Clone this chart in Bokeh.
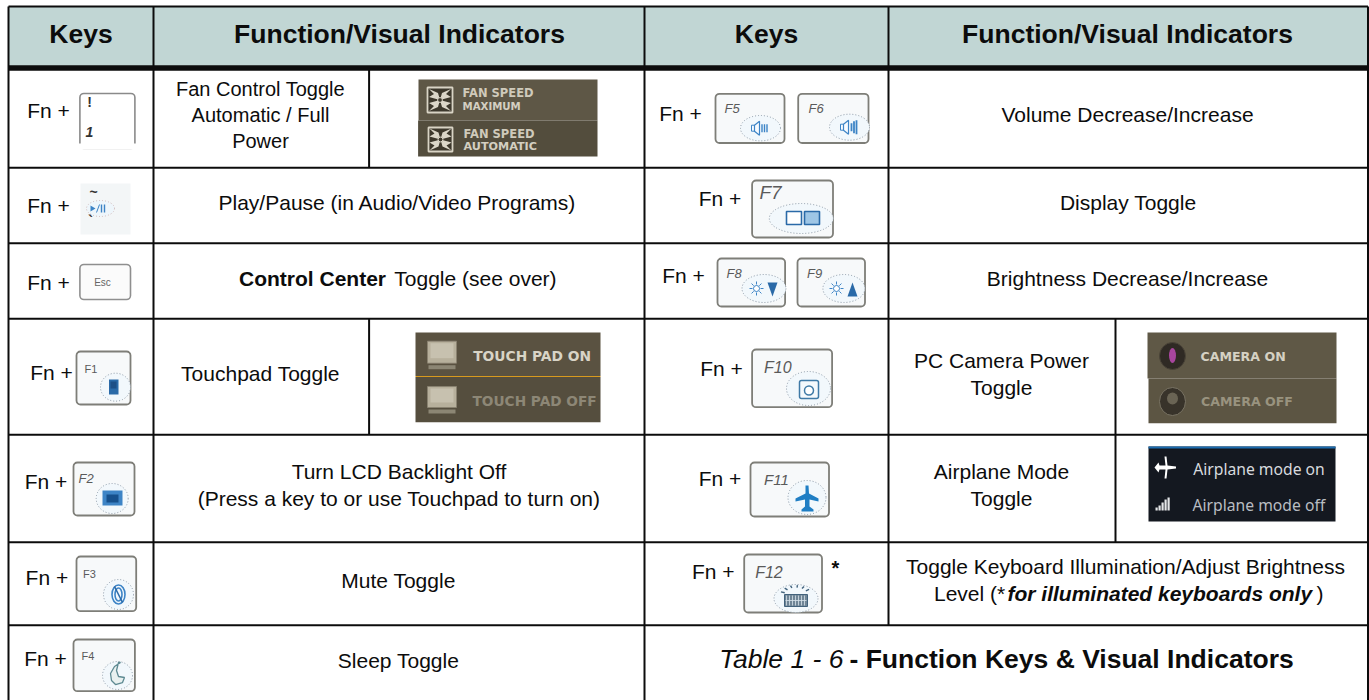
from bokeh.plotting import figure
from bokeh.models import Range1d
from bokeh.core.properties import value
from bokeh.embed import file_html
from bokeh.resources import INLINE
import math

HEADERS = ["Keys", "Function/Visual Indicators", "Keys", "Function/Visual Indicators"]
FN = "Fn +"

# table geometry
COLS = [8, 153, 644, 888, 1367.5]
SUB_L, SUB_R = 368.6, 1115
ROWS = [6, 67.5, 167.3, 242.7, 318.3, 434.3, 541.7, 624.7, 700]

BLK = "#0c0c0c"
FONT = "Liberation Sans"

p = figure(width=1369, height=700, output_backend="svg", toolbar_location=None,
           x_range=Range1d(0, 1369), y_range=Range1d(700, 0),
           x_axis_type=None, y_axis_type=None, min_border=0,
           outline_line_color=None, background_fill_color="white",
           border_fill_color="white")
p.grid.visible = False
p.styles = {"position": "absolute", "left": "0px", "top": "0px"}


def txt(x, y, s, size=21, style="normal", color=BLK, align="center", font=FONT):
    p.text([x], [y], text=[s], text_font=value(font), text_font_size=f"{size}px",
           text_font_style=style, text_color=color, text_align=align, text_baseline="middle")


def box(l, t, r, b, fill, line=None, lw=1, radius=0):
    p.quad(left=[l], right=[r], top=[t], bottom=[b], fill_color=fill,
           line_color=line, line_width=lw, border_radius=radius)


def poly(xs, ys, fill, line=None, lw=1):
    p.patch(xs, ys, fill_color=fill, line_color=line, line_width=lw)


def ln(x0, y0, x1, y1, color=BLK, w=2, dash="solid"):
    p.segment([x0], [y0], [x1], [y1], line_color=color, line_width=w, line_dash=dash)


# header band and grid
box(COLS[0], ROWS[0], COLS[4], ROWS[1], "#c1d6d4")
for x in (COLS[0], COLS[1], COLS[2], COLS[4]):
    ln(x, ROWS[0], x, ROWS[8])
ln(COLS[3], ROWS[0], COLS[3], ROWS[7])
ln(SUB_L, ROWS[1], SUB_L, ROWS[2])
ln(SUB_L, ROWS[4], SUB_L, ROWS[5])
ln(SUB_R, ROWS[4], SUB_R, ROWS[6])
for y in (ROWS[0], ROWS[2], ROWS[3], ROWS[4], ROWS[5], ROWS[6], ROWS[7]):
    ln(COLS[0], y, COLS[4], y)
ln(COLS[0], ROWS[1], COLS[4], ROWS[1], w=5.5)

# headers
for cx, h in zip((80.5, 399, 766, 1127), HEADERS):
    txt(cx, 33, h, size=26.5, style="bold")

# Fn + labels
FN_POS = [(48, 110), (48, 205), (48, 281.7), (51, 371.7), (45.5, 480.7), (46.4, 577), (45, 658),
          (680, 113), (719.5, 198), (683, 275), (721, 368), (719.5, 478), (712.8, 570.7)]
for x, y in FN_POS:
    txt(x, y, FN)

# body text
for x, y, s in [(260, 88, "Fan Control Toggle"), (260, 114, "Automatic / Full"), (260, 140, "Power")]:
    txt(x, y, s, size=20)

BODY = [
    (397, 202, "Play/Pause (in Audio/Video Programs)"),
    (260, 373, "Touchpad Toggle"),
    (398.5, 470.7, "Turn LCD Backlight Off"), (398.5, 498.3, "(Press a key to or use Touchpad to turn on)"),
    (398, 580, "Mute Toggle"), (398, 660, "Sleep Toggle"),
    (1127, 114, "Volume Decrease/Increase"), (1127.7, 202, "Display Toggle"),
    (1127, 277.7, "Brightness Decrease/Increase"),
    (1001, 360, "PC Camera Power"), (1001, 386.7, "Toggle"),
    (1001, 470.7, "Airplane Mode"), (1001, 498.3, "Toggle"),
    (1125, 566, "Toggle Keyboard Illumination/Adjust Brightness"),
]
for x, y, s in BODY:
    txt(x, y, s)

txt(238.5, 278, "Control Center", style="bold", align="left")
txt(393.8, 278, "Toggle (see over)", align="left")
txt(933.5, 592.7, "Level (*", align="left")
txt(1007, 592.7, "for illuminated keyboards only", style="bold italic", align="left")
txt(1316, 592.7, ")", align="left")
txt(718.7, 658, "Table 1 - 6", size=26.5, style="italic", align="left")
txt(849, 658, "- Function Keys & Visual Indicators", size=26.5, style="bold", align="left")
txt(835, 567, "*", size=20, style="bold")

# keys: name, left, top, right, bottom, label x, label y, label size, ellipse cx, cy, hw, hh
KEYS = [
    ("F1", 76, 351, 130, 404, 84, 368, 11, 115, 386.7, 15, 14),
    ("F2", 73, 462, 134, 515, 78, 478, 13, 111.7, 498, 16, 15),
    ("F3", 76, 556, 135.7, 610.7, 82.5, 573, 11, 118, 594, 15, 15),
    ("F4", 73, 639, 134.4, 690.7, 81, 655.7, 11, 117, 675, 15, 14),
    ("F5", 715, 93.3, 784, 142.5, 724, 108, 13, 760, 127.7, 20, 12.7),
    ("F6", 797.7, 93.3, 868, 142.5, 808, 108, 13, 849, 126.7, 20, 13),
    ("F7", 751.6, 180, 832.5, 237, 759, 192, 19, 800.8, 218, 32, 15),
    ("F8", 717, 258, 784.6, 306, 726, 273, 13, 763.5, 288, 22, 14),
    ("F9", 797, 258, 864.5, 306, 806.5, 273, 13, 843.4, 288, 21, 14),
    ("F10", 751.6, 349, 831.6, 406.7, 763.5, 367, 16, 808, 388, 22, 17),
    ("F11", 750, 462, 828.5, 516, 763.5, 479, 15, 806.5, 497, 19, 17),
    ("F12", 743.7, 554, 821.5, 612, 754.7, 572, 16, 795.5, 598, 22, 14),
]
BLUE = "#3d84c6"
DARKB = "#2a6aa8"
DOT = "#8b98a6"

for name, l, t, r, b, lx, ly, ls, ex, ey, hw, hh in KEYS:
    box(l, t, r, b, "#f7f9fa", "#7e7e78", 1.8, 4)
    p.ellipse([ex], [ey], width=[2 * hw], height=[2 * hh], fill_color="#f2f8fc",
               line_color=DOT, line_width=1, line_dash="1 2")
    txt(lx, ly, name, size=ls, style="italic" if name not in ("F1", "F3", "F4") else "normal",
        color="#5a5a5a", align="left")

# plain keys: "! 1"
box(79.4, 93, 134.4, 148, "white", "#8a8a8a", 1.6, 4)
box(78, 143, 136, 149, "white")
txt(89, 101.7, "!", size=14, style="bold", color="#333333")
txt(89, 131.7, "1", size=14, style="bold italic", color="#333333")

# play key
box(80, 183, 130, 234, "#f3f6f7")
p.ellipse([100], [208], width=[28], height=[16], fill_color="#eef6fb", line_color="#c8a8a8",
          line_width=0.8, line_dash="1 2")
txt(93, 191, "~", size=14, style="bold", color="#333333")
txt(90, 220, "`", size=15, style="bold", color="#333333")
poly([90, 90, 95], [205, 211, 208], BLUE)
ln(96, 212, 99, 204, BLUE, 1)
ln(101, 204, 101, 212, BLUE, 1.4)
ln(104, 204, 104, 212, BLUE, 1.4)

# Esc key
box(79.4, 264, 130, 299, "#fbfbfb", "#8f8f8f", 1.6, 4)
txt(102, 281.7, "Esc", size=10, color="#666666")


def speaker(cx, cy, big):
    box(cx - 9, cy - 3, cx - 6, cy + 3, "#f7fbff", BLUE, 1)
    poly([cx - 6, cx - 1, cx - 1, cx - 6], [cy - 3, cy - 7, cy + 7, cy + 3], "#f7fbff", BLUE, 1.2)
    if big:
        for k, h in ((2, 4), (4.5, 6), (7, 7)):
            ln(cx + k, cy - h, cx + k, cy + h, BLUE, 1.8)
    else:
        for k in (1.5, 4, 6.5):
            ln(cx + k, cy - 4, cx + k, cy + 4, BLUE, 1.4)


def sun(cx, cy):
    p.circle([cx], [cy], radius=3, fill_color="white", line_color=BLUE, line_width=1)
    for a in range(0, 360, 45):
        ca, sa = math.cos(math.radians(a)), math.sin(math.radians(a))
        ln(cx + 4 * ca, cy + 4 * sa, cx + 7 * ca, cy + 7 * sa, BLUE, 1)


speaker(760, 127.7, False)
speaker(849, 126.7, True)
sun(756, 288)
poly([767, 777, 772], [282, 282, 296], DARKB)
sun(836, 288)
poly([847, 857, 852], [296, 296, 282], DARKB)

# touchpad icon
box(108.5, 379, 118, 394, DARKB)
box(110, 381, 116, 388, "#1d4f86")
# backlight icon
box(102, 490, 122, 505, BLUE)
box(106, 494, 118, 502, "#16508c")
# mute
p.ellipse([118, 118], [594, 594], width=[13, 7], height=[19, 13], fill_color=None, line_color=BLUE, line_width=1.6)
ln(114, 586, 122, 602, DARKB, 1.6)
# sleep
poly([120, 114, 110, 111, 115, 122, 124, 118, 116, 118], [662, 666, 673, 680, 684, 682, 677, 676, 670, 662],
     "#e9f1f0", "#5e8a92", 1.3)
# display
box(786, 211, 801, 224, "white", DARKB, 1.6)
box(804, 211, 819, 224, "#9ec6e6", DARKB, 1.6)
# camera
box(799, 380, 818, 398, "#f4f9fc", "#3f7aa6", 1.5, 2)
p.circle([808.5], [390], radius=4.5, fill_color="white", line_color="#3f7aa6", line_width=1.5)
# airplane
poly([805, 808, 808.5, 818, 818, 809, 809, 813, 813, 801, 801, 804.5, 804.5, 795, 795, 805],
     [485, 485, 493, 498, 501, 499, 506, 509, 511, 511, 509, 506, 499, 501, 498, 493], "#1f7ec4")
# keyboard
box(784, 594, 807, 606, "#6f8596", "#42627c", 1)
for k in range(7):
    ln(786 + k * 3, 595, 786 + k * 3, 605, "#d7e2ea", 0.8)
ln(785, 600, 806, 600, "#d7e2ea", 0.8)
for a in range(200, 350, 25):
    ca, sa = math.cos(math.radians(a)), math.sin(math.radians(a))
    ln(795.5 + 12 * ca, 595 + 8 * sa, 795.5 + 16 * ca, 595 + 10.5 * sa, "#42627c", 1.4)

# fan panel
box(418, 79, 597, 120, "#5e5746")
box(417.6, 120, 597, 156, "#534d3d")
for (x0, y0, x1, y1) in ((427, 87, 452, 112), (428, 127, 452, 151)):
    box(x0, y0, x1, y1, "#3d382c", "#d9d4c5", 1.8)
    cx, cy = (x0 + x1) / 2, (y0 + y1) / 2
    for dx, dy in ((-1, -1), (1, -1), (1, 1), (-1, 1)):
        poly([cx, cx + dx * 11, cx + dx * 6, cx + dx * 11, cx + dx * 2],
             [cy, cy + dy * 3, cy + dy * 6, cy + dy * 11, cy + dy * 7], "#dbd6c8")
    p.circle([cx], [cy], radius=2.4, fill_color="#3d382c", line_color="#dbd6c8", line_width=1)
PANEL = "DejaVu Sans"
txt(462, 92, "FAN SPEED", size=11.5, style="bold", color="#cfcabb", align="left", font=PANEL)
txt(462, 106, "MAXIMUM", size=10.2, style="bold", color="#d4cfc1", align="left", font=PANEL)
txt(463, 133, "FAN SPEED", size=11.5, style="bold", color="#cfcabb", align="left", font=PANEL)
txt(463, 146, "AUTOMATIC", size=11.2, style="bold", color="#d4cfc1", align="left", font=PANEL)

# touchpad panel
box(415, 332, 600, 375.5, "#5a5241")
box(415, 376.5, 600, 421.7, "#554e3e")
ln(415, 376, 600, 376, "#d89a1e", 1.2)
for t0, b0 in ((340.7, 362.7), (386, 407)):
    box(427, t0, 456, b0, "#b7b09c", "#8a8371", 0.8)
    box(430, t0 + 2, 453, b0 - 5, "#c7c1af")
    box(428, b0 + 2, 455, b0 + 6, "#8c8674")
txt(472.7, 355, "TOUCH PAD ON", size=13.8, style="bold", color="#d8d4c6", align="left", font=PANEL)
txt(472, 400.7, "TOUCH PAD OFF", size=13.7, style="bold", color="#8d8776", align="left", font=PANEL)

# camera panel
box(1147, 332, 1336, 378, "#5f5846")
box(1148, 378, 1336, 422.7, "#5c5543")
p.ellipse([1172], [355.5], width=[26], height=[27], fill_color="#2f2a24", line_color="#4a4438")
p.ellipse([1172], [355], width=[7], height=[15], fill_color="#a8469e", line_color=None)
p.ellipse([1172], [401], width=[26], height=[28], fill_color="#38332a", line_color="#7a7464")
p.ellipse([1172], [398], width=[11], height=[12], fill_color="#6a6454", line_color=None)
txt(1200, 356, "CAMERA ON", size=12.6, style="bold", color="#d5d1c3", align="left", font=PANEL)
txt(1200.6, 401, "CAMERA OFF", size=12.6, style="bold", color="#99937f", align="left", font=PANEL)

# airplane panel
box(1148, 446, 1335, 521, "#141820")
ln(1148, 447, 1335, 447, "#1b6cb0", 2)
poly([1164, 1166, 1167, 1175.5, 1175.5, 1167, 1166, 1164, 1165, 1159, 1158, 1154, 1158, 1159, 1165],
     [456, 456, 465, 466, 468, 469, 478, 478, 469, 469, 472, 467, 462, 465, 465], "white")
for i, h in enumerate((3, 5, 8, 11, 13)):
    box(1155 + i * 3, 510 - h, 1157.2 + i * 3, 510, "#e4e6e8")
txt(1192.7, 468, "Airplane mode on", size=15.7, color="#d7dade", align="left", font="Noto Sans")
txt(1192, 504, "Airplane mode off", size=15.7, color="#b9bdc2", align="left", font="Noto Sans")

open("out.html", "w").write(file_html(p, INLINE))
